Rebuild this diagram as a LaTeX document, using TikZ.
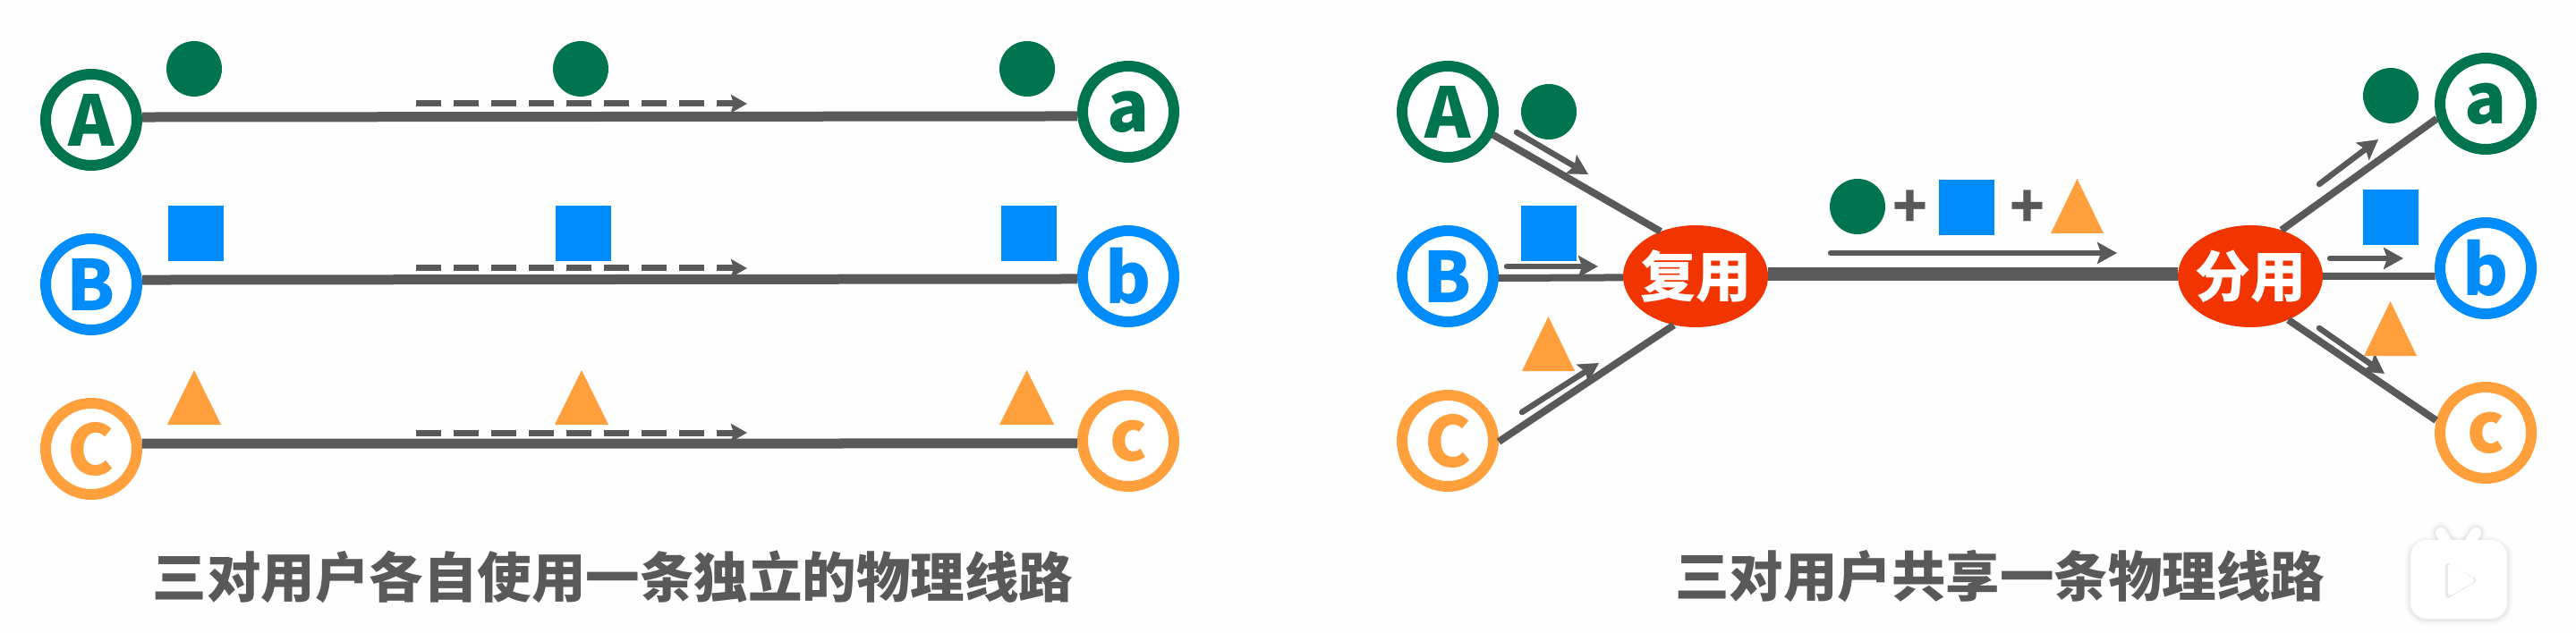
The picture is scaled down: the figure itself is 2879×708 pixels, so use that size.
\documentclass[tikz,border=0pt]{standalone}
\usepackage{fontspec}
\setmainfont{Noto Sans}
\newfontfamily\cjk{Noto Sans CJK SC}
\usetikzlibrary{arrows.meta,shapes.geometric}
\definecolor{cgreen}{HTML}{00734F}
\definecolor{cblue}{HTML}{008CFA}
\definecolor{corange}{HTML}{FFA03C}
\definecolor{cgray}{HTML}{595959}
\definecolor{cred}{HTML}{F23500}
\tikzset{
  x=1pt,y=-1pt,
  ring/.style={circle,draw=#1,text=#1,line width=12pt,minimum size=102pt,inner sep=0pt,fill=white,
    font=\fontsize{78}{78}\selectfont\cjk\bfseries},
  disc/.style={circle,fill=cgreen,minimum size=62pt,inner sep=0pt},
  sqmark/.style={rectangle,fill=cblue,minimum size=62pt,inner sep=0pt},
  trimark/.style={fill=corange},
  wire/.style={draw=cgray,line width=11pt},
  thinwire/.style={draw=cgray,line width=8pt},
  trunk/.style={draw=cgray,line width=15pt},
  flow/.style={draw=cgray,line width=6.5pt,line cap=round,-{Stealth[length=22pt,width=24pt,inset=4pt]}},
  dashflow/.style={draw=cgray,line width=7pt,dash pattern=on 28pt off 14pt,-{Stealth[length=18pt,width=20pt,inset=3pt]}},
  hub/.style={ellipse,fill=cred,minimum width=162pt,minimum height=114pt,inner sep=0pt},
  hubtext/.style={text=white,inner sep=0pt,font=\fontsize{62}{62}\selectfont\cjk\bfseries},
  caption/.style={text=cgray,inner sep=0pt,font=\fontsize{60.5}{60.5}\selectfont\cjk\bfseries},
  plus/.style={text=cgray,inner sep=0pt,font=\fontsize{64}{64}\selectfont\cjk\bfseries},
  badgeshadow/.style={draw=black,opacity=#1,line join=round},
}
\newcommand{\tri}[3]{\fill[trimark] (#1,#3) -- (#1+#2,#3) -- (#1+#2/2,#3-61) -- cycle;}
\begin{document}
\begin{tikzpicture}
\useasboundingbox (0,0) rectangle (2879,708);
\fill[white!99.5!black] (0,0) rectangle (2879,708);

% ---- left panel
\coordinate (d1s) at (465,116); \coordinate (d1e) at (835,116);
\coordinate (d2s) at (465,300); \coordinate (d2e) at (835,300);
\coordinate (d3s) at (465,484); \coordinate (d3e) at (835,484);
\node[ring=cgreen] (A) at (102,134) {A};
\node[ring=cblue] (B) at (102,318) {B};
\node[ring=corange] (C) at (102,502) {C};
\node[ring=cgreen] (a) at (1261,125) {a};
\node[ring=cblue] (b) at (1261,309) {b};
\node[ring=corange] (c) at (1261,493) {c};
\draw[wire] (A.3) -- (a.185);
\draw[wire] (B.5) -- (b.183.5);
\draw[wire] (C.6) -- (c.183);
\draw[dashflow] (d1s) -- (d1e);
\draw[dashflow] (d2s) -- (d2e);
\draw[dashflow] (d3s) -- (d3e);
\node[disc] (g1) at (217,77) {};
\node[disc] (g2) at (649,77) {};
\node[disc] (g3) at (1148,77) {};
\node[sqmark] (s1) at (219,261) {};
\node[sqmark] (s2) at (652,261) {};
\node[sqmark] (s3) at (1150,261) {};
\tri{187}{60}{475}
\tri{620}{60}{475}
\tri{1117}{61}{475}
\node[caption] (capL) at (685,645) {三对用户各自使用一条独立的物理线路};

% ---- right panel
\node[ring=cgreen] (A2) at (1618,125) {A};
\node[ring=cblue] (B2) at (1618,309) {B};
\node[ring=corange] (C2) at (1618,493) {C};
\node[ring=cgreen] (a2) at (2778,116) {a};
\node[ring=cblue] (b2) at (2778,300) {b};
\node[ring=corange] (c2) at (2778,484) {c};
\node[hub] (mux) at (1895,309) {};
\node[hub] (demux) at (2515,309) {};
\node[hubtext] (muxt) at (mux) {复用};
\node[hubtext] (demuxt) at (demux) {分用};
\draw[thinwire] (A2.-27) -- (mux.128);
\draw[thinwire] (B2.-2) -- (mux.181);
\draw[thinwire] (C2.-1) -- (mux.246);
\draw[trunk] (mux.2) -- (demux.178);
\draw[thinwire] (demux.56) -- (a2.197);
\draw[thinwire] (demux.0) -- (b2.189);
\draw[thinwire] (demux.-49) -- (c2.166);
\coordinate (f1s) at (1695,148); \coordinate (f1e) at (1775,195);
\coordinate (f2s) at (1684,298); \coordinate (f2e) at (1786,298);
\coordinate (f3s) at (1701,461); \coordinate (f3e) at (1787,406);
\coordinate (f4s) at (2046,283); \coordinate (f4e) at (2366,283);
\coordinate (f5s) at (2592,206); \coordinate (f5e) at (2658,156);
\coordinate (f6s) at (2604,289); \coordinate (f6e) at (2686,289);
\coordinate (f7s) at (2592,367); \coordinate (f7e) at (2665,418);
\foreach \n in {1,...,7} {\draw[flow] (f\n s) -- (f\n e);}
\node[disc] (g4) at (1731,125) {};
\node[sqmark] (s4) at (1731,261) {};
\tri{1701}{59}{415}
\node[disc] (g5) at (2076,231) {};
\node[plus] (p1) at (2135,234) {+};
\node[sqmark] (s5) at (2198,232) {};
\node[plus] (p2) at (2266,234) {+};
\tri{2292}{59}{261}
\node[disc] (g6) at (2672,107) {};
\node[sqmark] (s6) at (2672,243) {};
\tri{2642}{59}{398}
\node[caption] (capR) at (2235,645) {三对用户共享一条物理线路};

% ---- player badge
\foreach \o/\w in {0.018/12,0.025/8,0.035/4}{
  \draw[badgeshadow=\o,line width=\w pt,rounded corners=18pt] (2694,606) rectangle (2802,693);
  \draw[badgeshadow=\o,line width=\w pt+12pt,line cap=round] (2728,596) -- (2738,612);
  \draw[badgeshadow=\o,line width=\w pt+12pt,line cap=round] (2767,596) -- (2757,612);
}
\draw[white,line width=12pt,line cap=round] (2728,596) -- (2738,612);
\draw[white,line width=12pt,line cap=round] (2767,596) -- (2757,612);
\fill[white,rounded corners=18pt] (2694,604) rectangle (2802,692);
\fill[black!9,rounded corners=5pt] (2733,628) -- (2770,649) -- (2733,671) -- cycle;
\fill[white,rounded corners=5pt] (2736,629) -- (2768,649) -- (2736,668) -- cycle;
\end{tikzpicture}
\end{document}
